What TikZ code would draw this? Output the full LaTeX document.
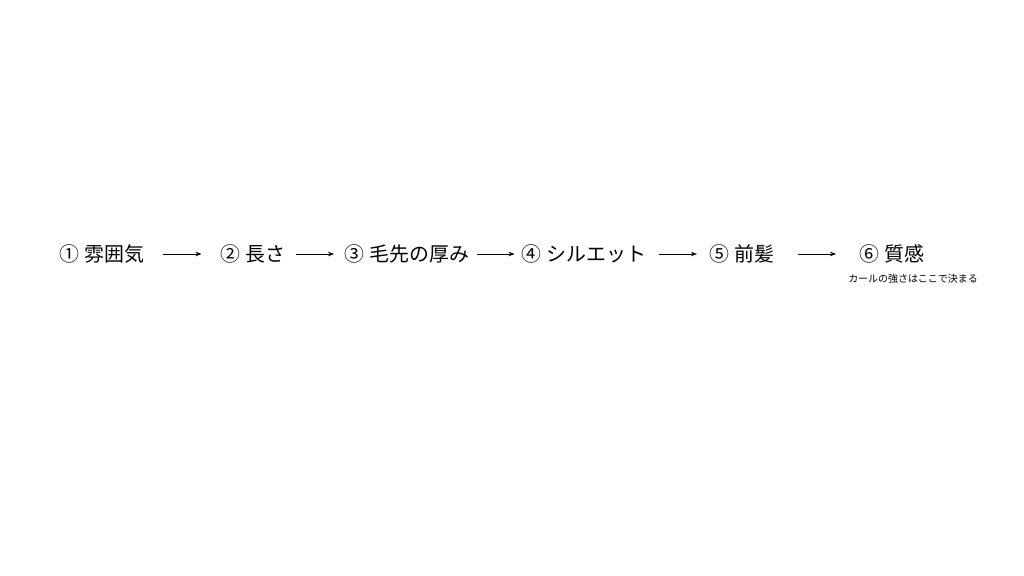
\documentclass[tikz,border=0pt]{standalone}
\usepackage{fontspec}
\newfontfamily\jpfont{Noto Sans CJK JP}
\usepackage{tikz}
\usetikzlibrary{arrows.meta,positioning,calc}

\begin{document}
\begin{tikzpicture}[
    x=1bp, y=-1bp,
    stage/.style={font=\jpfont\fontsize{20}{24}\selectfont, inner sep=0pt, text height=17.6bp, text depth=2.4bp},
    note/.style={font=\jpfont\fontsize{10}{12}\selectfont, inner sep=0pt},
    flow/.style={-{Stealth[length=6bp,width=4.5bp]}, line width=0.8bp}
]
    \useasboundingbox (0,0) rectangle (1024,576);

    \node [stage] (mood) at (102,254) {① 雰囲気};
    \node [stage] (length) at (253,254) {② 長さ};
    \node [stage] (tips) at (407,254) {③ 毛先の厚み};
    \node [stage] (shape) at (584,254) {④ シルエット};
    \node [stage] (bangs) at (742,254) {⑤ 前髪};
    \node [stage] (texture) at (892,254) {⑥ 質感};
    \node [note] (curl) at (913,279) {カールの強さはここで決まる};

    \draw [flow] ($(mood.east)!0.5!(length.west)$) ++(-19,0) -- ++(38,0);
    \draw [flow] ($(length.east)!0.5!(tips.west)$) ++(-19,0) -- ++(38,0);
    \draw [flow] ($(tips.east)!0.5!(shape.west)$) ++(-19,0) -- ++(38,0);
    \draw [flow] ($(shape.east)!0.5!(bangs.west)$) ++(-19,0) -- ++(38,0);
    \draw [flow] ($(bangs.east)!0.5!(texture.west)$) ++(-19,0) -- ++(38,0);

\end{tikzpicture}
\end{document}
